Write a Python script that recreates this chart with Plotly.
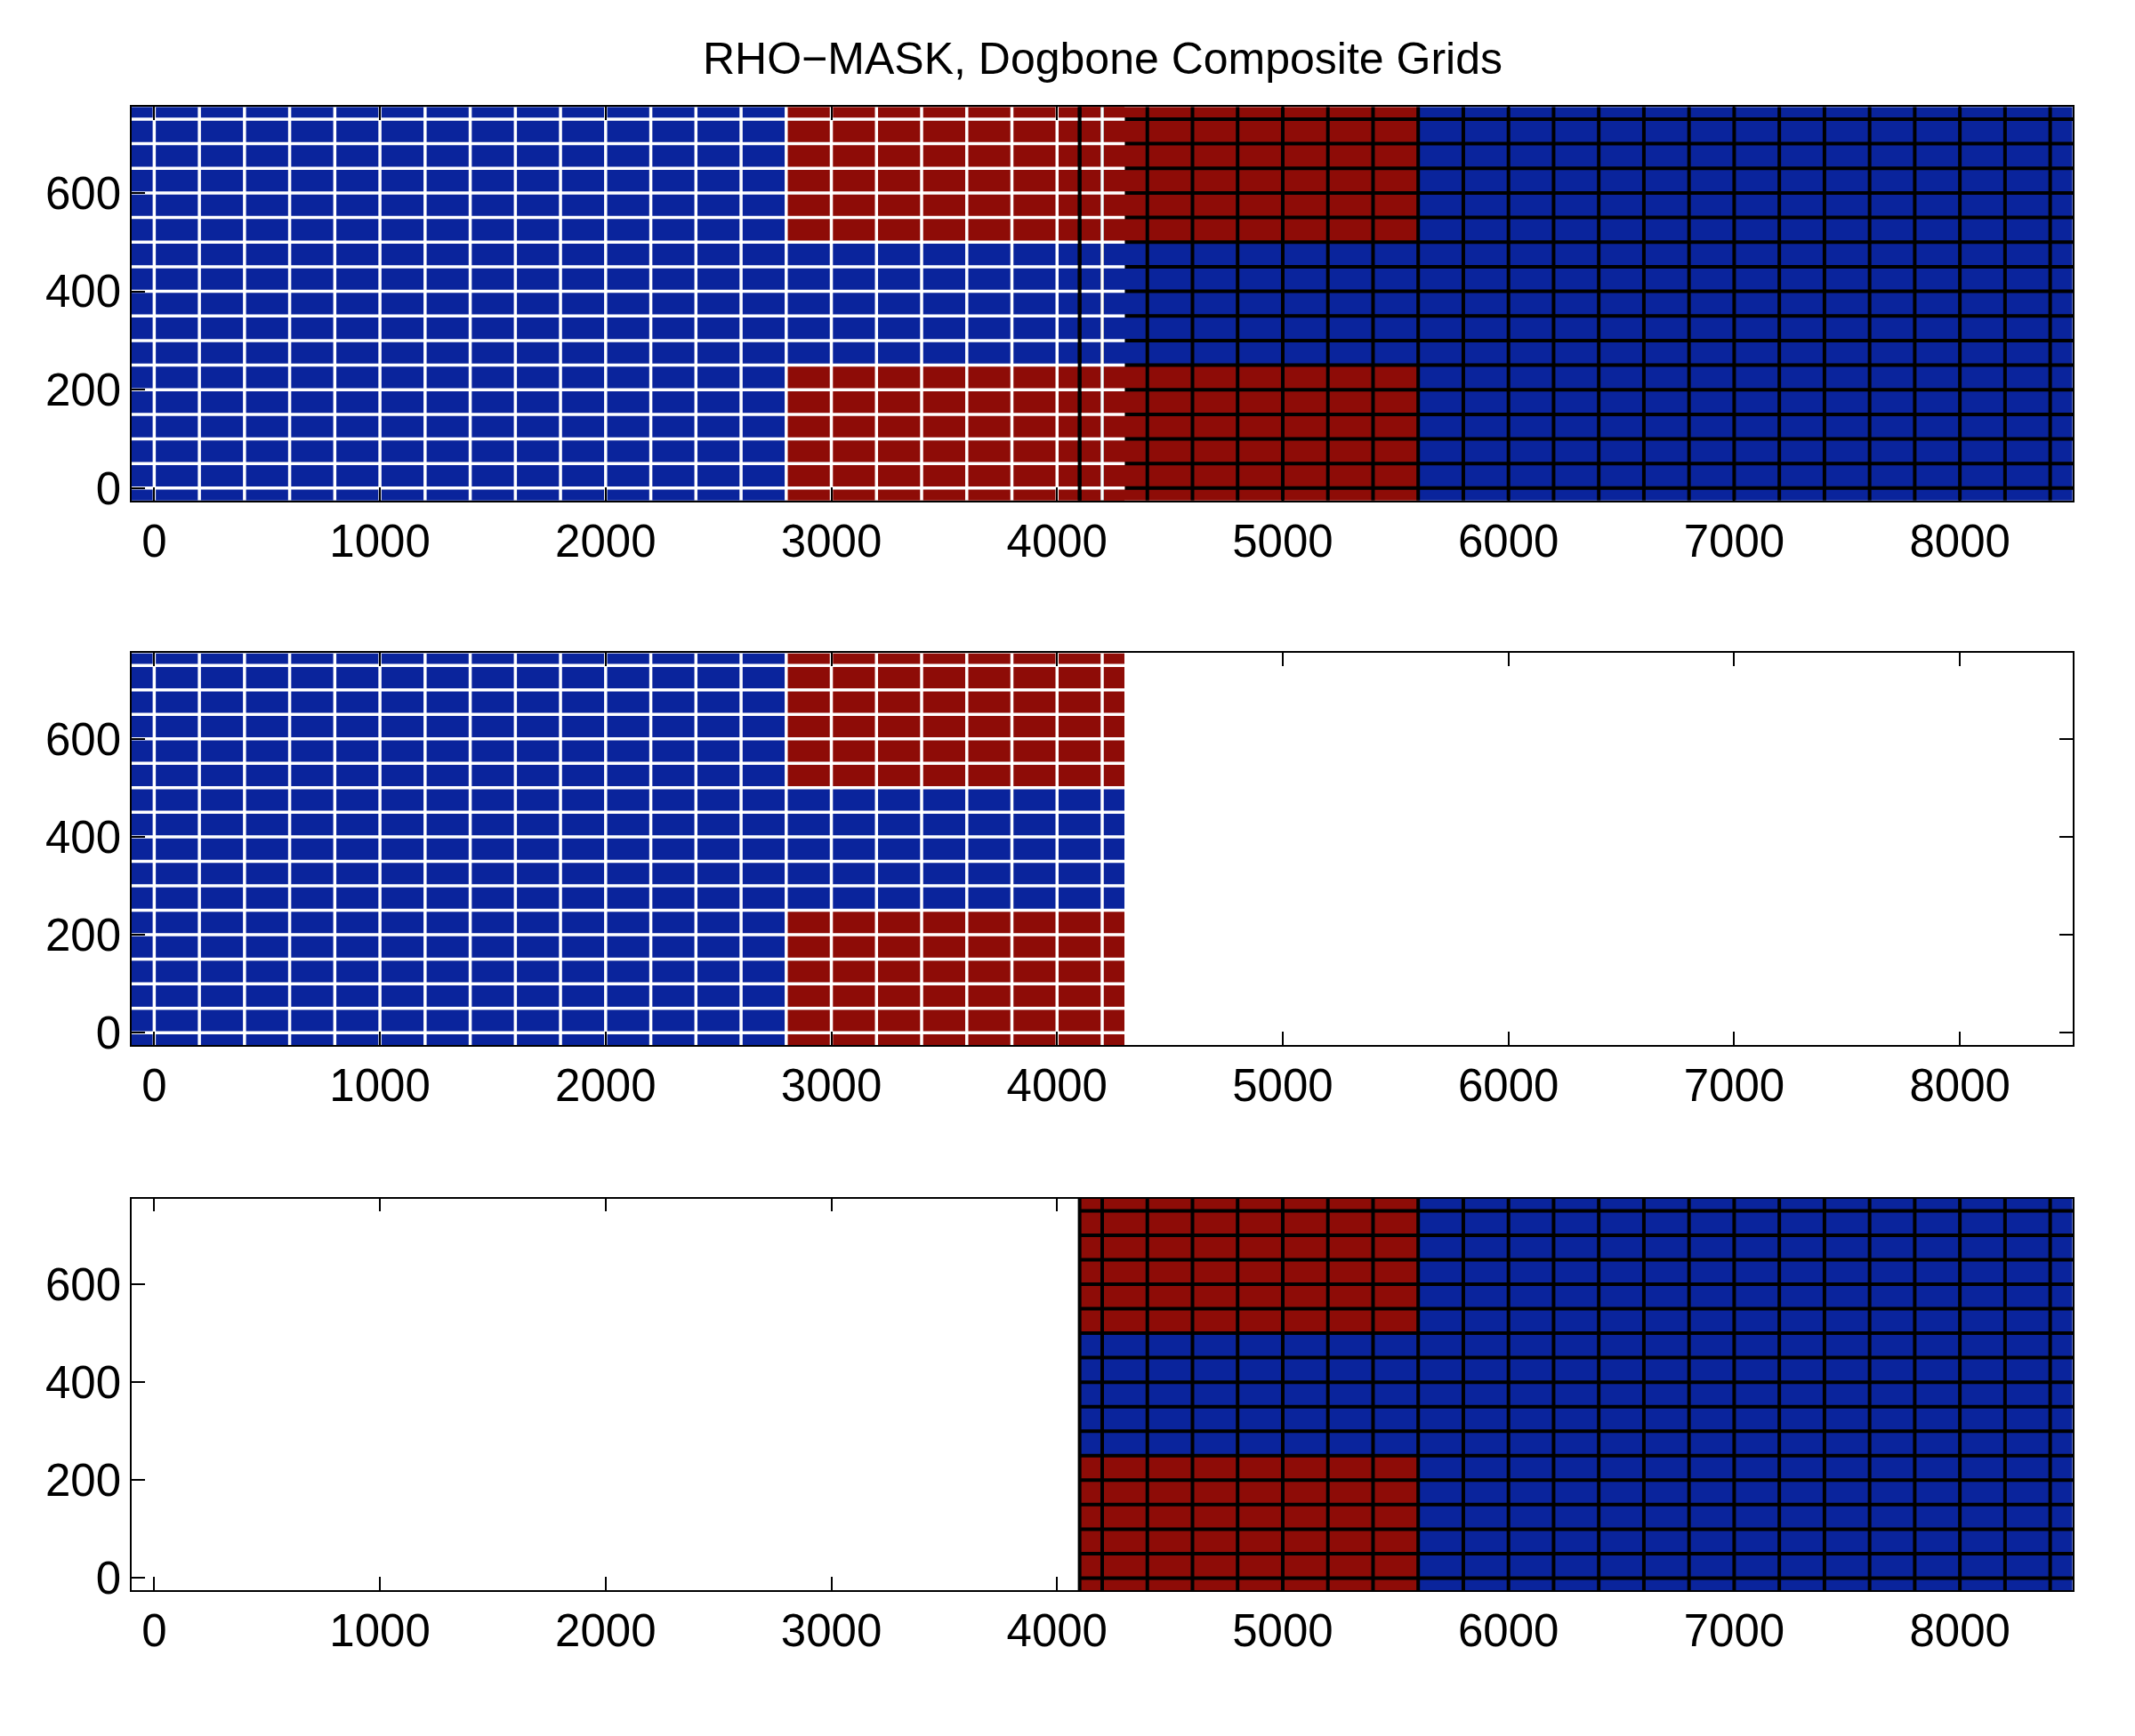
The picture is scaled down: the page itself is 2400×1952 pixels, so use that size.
import plotly.graph_objects as go

# grid definitions (rho-point lines and domain edges)
left_x_lines = list(range(0, 4201, 200))        # white grid lines
left_x_edges = [-100] + left_x_lines + [4300]
right_x_lines = [4100] + list(range(4200, 8401, 200))
right_x_edges = right_x_lines + [8500]
y_lines = list(range(0, 751, 50))
y_edges = [-25] + y_lines + [775]

# mask regions: land (red) on an x-range, outside the channel in y
left_land_x = 2800
right_land_x = 5600
channel_y = (250, 500)

RED = "#8E0C07"
BLUE = "#0A249C"
FONT = "Liberation Sans, Arial, sans-serif"

xc_left = [(a + b) / 2 for a, b in zip(left_x_edges[:-1], left_x_edges[1:])]
xc_right = [(a + b) / 2 for a, b in zip(right_x_edges[:-1], right_x_edges[1:])]
yc = [(a + b) / 2 for a, b in zip(y_edges[:-1], y_edges[1:])]


def in_land(x, y, x0, x1):
    return x0 <= x < x1 and (y < channel_y[0] or y >= channel_y[1])


z_left = [[1 if in_land(x, y, left_land_x, 99999) else 0 for x in xc_left] for y in yc]
z_right = [[1 if in_land(x, y, 0, right_land_x) else 0 for x in xc_right] for y in yc]

cscale = [[0, BLUE], [0.5, BLUE], [0.5, RED], [1, RED]]


def heat(xe, z, ax):
    return go.Heatmap(x=xe, y=y_edges, z=z, colorscale=cscale, zmin=0, zmax=1,
                      showscale=False, hoverinfo="skip", xaxis="x" + ax, yaxis="y" + ax)


def grid(xl, x0, x1, color, width, ax, horiz=True):
    xs, ys = [], []
    for x in xl:
        xs += [x, x, None]
        ys += [y_edges[0], y_edges[-1], None]
    if horiz:
        for y in y_lines:
            xs += [x0, x1, None]
            ys += [y, y, None]
    return go.Scatter(x=xs, y=ys, mode="lines", line=dict(color=color, width=width),
                      hoverinfo="skip", xaxis="x" + ax, yaxis="y" + ax)


fig = go.Figure()
# panel 1: composite
fig.add_trace(heat(right_x_edges, z_right, ""))
fig.add_trace(grid(right_x_lines, 4300, 8500, "black", 4, ""))
fig.add_trace(heat(left_x_edges, z_left, ""))
fig.add_trace(grid(left_x_lines, left_x_edges[0], left_x_edges[-1], "white", 3.5, ""))
fig.add_trace(grid(right_x_lines[:1], 0, 0, "black", 4, "", horiz=False))
# panel 2: left grid
fig.add_trace(heat(left_x_edges, z_left, "2"))
fig.add_trace(grid(left_x_lines, left_x_edges[0], left_x_edges[-1], "white", 3.5, "2"))
# panel 3: right grid
fig.add_trace(heat(right_x_edges, z_right, "3"))
fig.add_trace(grid(right_x_lines, right_x_edges[0], right_x_edges[-1], "black", 4, "3"))

W, H = 2400, 1952
doms = [(113, 559), (732, 1176), (1350, 1794)]
ax_common = dict(showline=True, linecolor="black", linewidth=1.5, mirror="ticks",
                 ticks="inside", ticklen=15, tickwidth=1.5, tickcolor="black",
                 showgrid=False, zeroline=False,
                 tickfont=dict(family=FONT, size=51, color="black"))
layout = dict(width=W, height=H, paper_bgcolor="white", plot_bgcolor="white",
              margin=dict(l=0, r=0, t=0, b=0), showlegend=False,
              font=dict(family=FONT, color="black"))
for i, (t, b) in enumerate(doms):
    s = "" if i == 0 else str(i + 1)
    layout["xaxis" + s] = dict(ax_common, domain=[140 / W, 2322 / W], range=[-100, 8500],
                               tickvals=list(range(0, 8001, 1000)), anchor="y" + s)
    layout["yaxis" + s] = dict(ax_common, domain=[1 - b / H, 1 - t / H], range=[-25, 775],
                               tickvals=list(range(0, 601, 200)), anchor="x" + s)
fig.update_layout(**layout)
fig.add_annotation(text="RHO\u2212MASK, Dogbone Composite Grids", xref="paper", yref="paper",
                   x=1231 / W, y=1 - 58 / H, yanchor="middle", showarrow=False,
                   font=dict(family=FONT, size=50, color="black"))
fig.write_html("out.html")
